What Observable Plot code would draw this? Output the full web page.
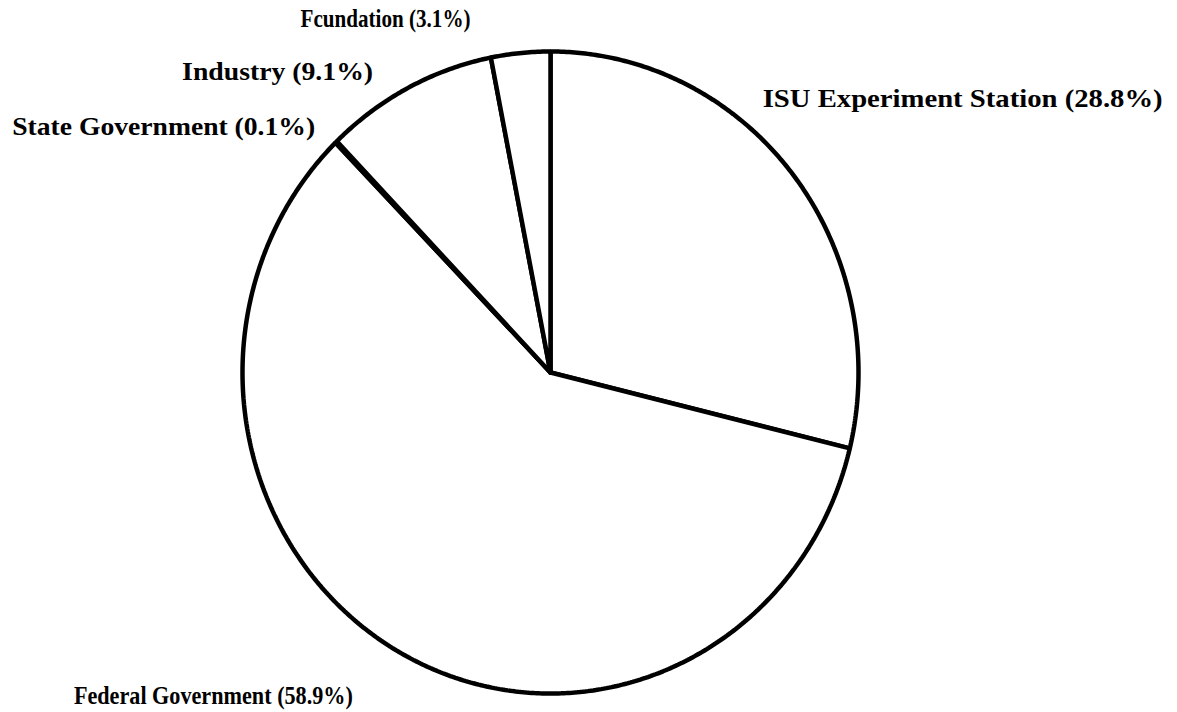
<!DOCTYPE html>
<html>
<head>
<meta charset="utf-8">
<script src="https://cdn.jsdelivr.net/npm/d3@7"></script>
<script src="https://cdn.jsdelivr.net/npm/@observablehq/plot@0.6"></script>
<style>
  html, body { margin: 0; padding: 0; background: #fff; }
  #chart svg { display: block; }
</style>
</head>
<body>
<div id="chart"></div>
<script>
// ---- Data ----
const categories = ["ISU Experiment Station", "Federal Government", "State Government", "Industry", "Fcundation"];
const shares = [28.8, 58.9, 0.1, 9.1, 3.1];
const shareLabels = ["28.8%", "58.9%", "0.1%", "9.1%", "3.1%"];

// ---- Layout (pixels) ----
const W = 1177, H = 712;
const cx = 550, cy = 372, rx = 308, ry = 321;
// per-label placement relative to the slice mid-angle point on the rim, and rendered width
const labelOffsets = [
  {dx: -30, dy: -75, width: 400},
  {dx: -324, dy: 44, width: 279},
  {dx: -324, dy: -15, width: 303},
  {dx: -226, dy: -16, width: 191},
  {dx: -220, dy: -34, width: 170}
];

const table = categories.map((c, i) => ({category: c, value: shares[i], label: `${c} (${shareLabels[i]})`}));
const arcs = d3.pie().sort(null).value(d => d.value).startAngle(0).endAngle(2 * Math.PI)(table);

// polygon outline of every slice in unit coordinates (x = sin a, y = -cos a)
const slicePts = [];
arcs.forEach(a => {
  const n = Math.max(2, Math.ceil((a.endAngle - a.startAngle) / (Math.PI / 360)));
  slicePts.push({k: a.data.category, x: 0, y: 0});
  for (let j = 0; j <= n; j++) {
    const t = a.startAngle + (a.endAngle - a.startAngle) * j / n;
    slicePts.push({k: a.data.category, x: Math.sin(t), y: -Math.cos(t)});
  }
  slicePts.push({k: a.data.category, x: 0, y: 0});
});

const mids = arcs.map(a => {
  const m = (a.startAngle + a.endAngle) / 2;
  return {label: a.data.label, x: Math.sin(m), y: -Math.cos(m)};
});

const font = "'Liberation Serif', 'Times New Roman', serif";

const chart = Plot.plot({
  width: W,
  height: H,
  margin: 0,
  x: {domain: [-cx / rx, (W - cx) / rx], range: [0, W], axis: null},
  y: {domain: [-cy / ry, (H - cy) / ry], range: [0, H], axis: null},
  style: {background: "#fff", fontFamily: font},
  marks: [
    Plot.line(slicePts, {x: "x", y: "y", z: "k", fill: "white", stroke: "black", strokeWidth: 4.5, strokeLinejoin: "miter", curve: "linear"}),
    ...mids.map((m, i) => Plot.text([m], {
      x: "x", y: "y", text: "label",
      dx: labelOffsets[i].dx, dy: labelOffsets[i].dy,
      textAnchor: "start",
      fontSize: 26, fontWeight: "bold", fill: "black"
    }))
  ]
});

// stretch each label to the width it has in the original figure
chart.querySelectorAll('g[aria-label="text"] text').forEach((t, i) => {
  if (labelOffsets[i]) {
    t.setAttribute("textLength", labelOffsets[i].width);
    t.setAttribute("lengthAdjust", "spacingAndGlyphs");
  }
});

document.getElementById("chart").appendChild(chart);
</script>
</body>
</html>
